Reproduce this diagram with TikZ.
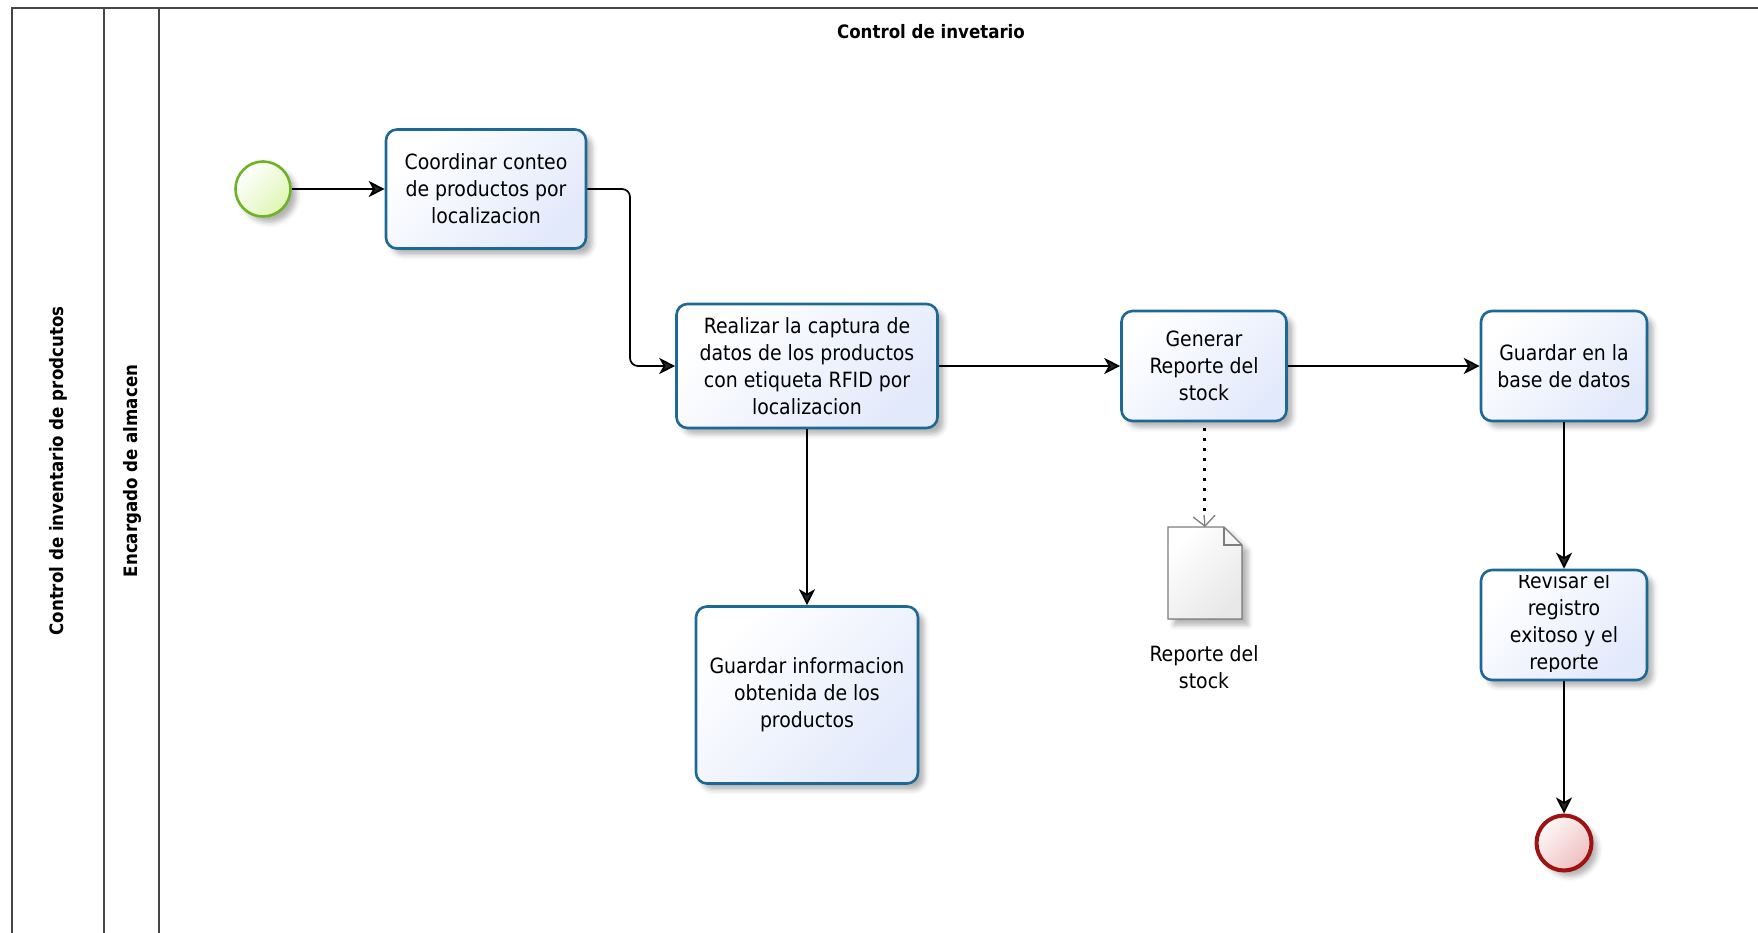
\documentclass[tikz,border=0pt]{standalone}
\usepackage{fontspec}
\setmainfont{DejaVu Sans Condensed}
\usetikzlibrary{arrows.meta,shadows,shadows.blur,calc}

\definecolor{taskborder}{RGB}{30,104,150}
\definecolor{taskfill}{RGB}{226,233,251}
\definecolor{startborder}{RGB}{112,178,38}
\definecolor{startfill}{RGB}{222,246,180}
\definecolor{endborder}{RGB}{158,18,18}
\definecolor{endfill}{RGB}{240,190,190}
\definecolor{docborder}{RGB}{125,125,125}
\definecolor{docfill}{RGB}{232,232,232}
\definecolor{poolline}{RGB}{70,70,70}

\begin{document}
\begin{tikzpicture}[x=1pt,y=-1pt,
  softshadow/.style={blur shadow={shadow xshift=6pt,shadow yshift=-6pt,shadow blur radius=5pt,shadow opacity=30}},
  task/.style={draw=taskborder,line width=2.6pt,rounded corners=11pt,
    left color=white,right color=taskfill,shading angle=45,
    align=center,inner sep=2pt,softshadow,
    font=\fontsize{21}{27}\selectfont},
  flow/.style={line width=1.7pt,-{Stealth[length=16pt,width=16pt,inset=4.5pt]}},
  lane/.style={draw=poolline,line width=1.6pt},
  lanelabel/.style={rotate=90,font=\bfseries\fontsize{18.5}{22}\selectfont}]

\useasboundingbox (0,0) rectangle (1758,933);

% pool and lane frame
\draw[lane] (12,933) -- (12,8) -- (1758,8);
\draw[lane] (104,8) -- (104,933);
\draw[lane] (159,8) -- (159,933);

\node[font=\bfseries\fontsize{18.5}{22}\selectfont] (title) at (931,32) {Control de invetario};
\node[lanelabel] (pool) at (58,471) {Control de inventario de prodcutos};
\node[lanelabel] (role) at (132,471) {Encargado de almacen};

% events
\node[circle,draw=startborder,line width=2.6pt,minimum size=55pt,
  left color=white,right color=startfill,shading angle=45,softshadow] (start) at (263,189) {};
\node[circle,draw=endborder,line width=4pt,minimum size=55pt,
  left color=white!90!endfill,right color=endfill,shading angle=45,softshadow] (end) at (1564,843) {};

% tasks
\node[task,minimum width=200pt,minimum height=119pt] (t1) at (486,189)
  {Coordinar conteo\\de productos por\\localizacion};
\node[task,minimum width=261pt,minimum height=124pt] (t2) at (807,366)
  {Realizar la captura de\\datos de los productos\\con etiqueta RFID por\\localizacion};
\node[task,minimum width=165pt,minimum height=110pt] (t3) at (1204,366)
  {Generar\\Reporte del\\stock};
\node[task,minimum width=166pt,minimum height=110pt] (t4) at (1564,366)
  {Guardar en la\\base de datos};
\node[task,minimum width=222pt,minimum height=177pt] (t5) at (807,695)
  {Guardar informacion\\obtenida de los\\productos};
\node[task,minimum width=166pt,minimum height=110pt] (t6) at (1564,625) {};
% the label of this task is longer than the box and is cut at its inner edge
\begin{scope}
  \clip ($(t6.north west)+(4,7)$) rectangle ($(t6.south east)+(-4,-10)$);
  \node[align=center,font=\fontsize{21}{27}\selectfont] (t6text) at (1564,623)
    {Revisar el\\registro\\exitoso y el\\reporte};
\end{scope}

% data object
\coordinate (dtop) at (1205,527);
\filldraw[draw=docborder,line width=1.2pt,left color=white,right color=docfill,
  shading angle=45,softshadow]
  (1168,527) -- (1224,527) -- (1242,545) -- (1242,619) -- (1168,619) -- cycle;
\draw[docborder,line width=1.2pt] (1224,527) -- (1224,545) -- (1242,545);
\node[align=center,font=\fontsize{21}{27}\selectfont] (doclabel) at (1204,667)
  {Reporte del\\stock};

% sequence flows
\draw[flow] (start) -- (t1);
\draw[flow,rounded corners=8pt] (t1.east) -- (630,189) -- (630,366) -- (t2.west);
\draw[flow] (t2) -- (t3);
\draw[flow] (t3) -- (t4);
\draw[flow] (t2.south) -- (t5.north);
\draw[flow] (t4) -- (t6);
\draw[flow] (t6) -- (end);

% association to the report
\draw[line width=3pt,dash pattern=on 3pt off 7pt] (t3.south) ++(0,6) -- ($(dtop)+(-1,-12)$);
\draw[docborder,line width=1.3pt,-{Straight Barb[length=10pt,width=22pt]}]
  ($(dtop)+(-1,-12)$) -- (dtop);
\end{tikzpicture}
\end{document}
